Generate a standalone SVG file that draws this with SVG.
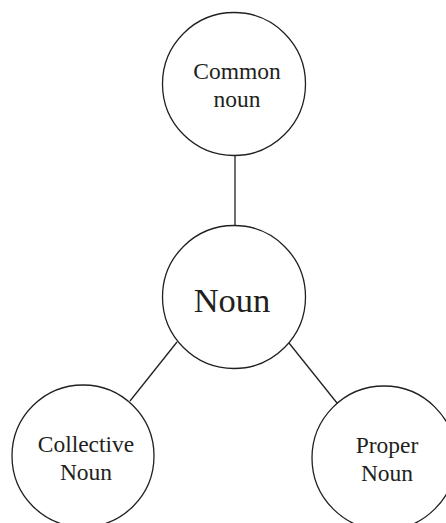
<svg xmlns="http://www.w3.org/2000/svg" width="446" height="523" viewBox="0 0 446 523">
<style>
.n{fill:#fff;stroke:#231f20;stroke-width:1.3}
.c{stroke:#231f20;stroke-width:1.3;fill:none}
text{font-family:"Liberation Serif","Times New Roman",serif;fill:#231f20;text-anchor:middle}
.s{font-size:23.5px}
.b{font-size:34.5px}
</style>
<rect width="446" height="523" fill="#fff"/>
<g id="connectors">
<line class="c" x1="235" y1="155" x2="235" y2="226"/>
<line class="c" x1="177" y1="342" x2="130" y2="401"/>
<line class="c" x1="289" y1="343" x2="337" y2="403"/>
</g>
<g id="common">
<circle class="n" cx="234" cy="84" r="71.5"/>
<text class="s" x="237" y="79">Common</text>
<text class="s" x="237" y="107">noun</text>
</g>
<g id="noun">
<circle class="n" cx="234" cy="297" r="71.5"/>
<text class="b" x="232" y="312">Noun</text>
</g>
<g id="collective">
<circle class="n" cx="83" cy="456" r="71"/>
<text class="s" x="86" y="452">Collective</text>
<text class="s" x="86" y="480">Noun</text>
</g>
<g id="proper">
<circle class="n" cx="384" cy="458" r="72"/>
<text class="s" x="387" y="453">Proper</text>
<text class="s" x="387" y="481">Noun</text>
</g>
</svg>
